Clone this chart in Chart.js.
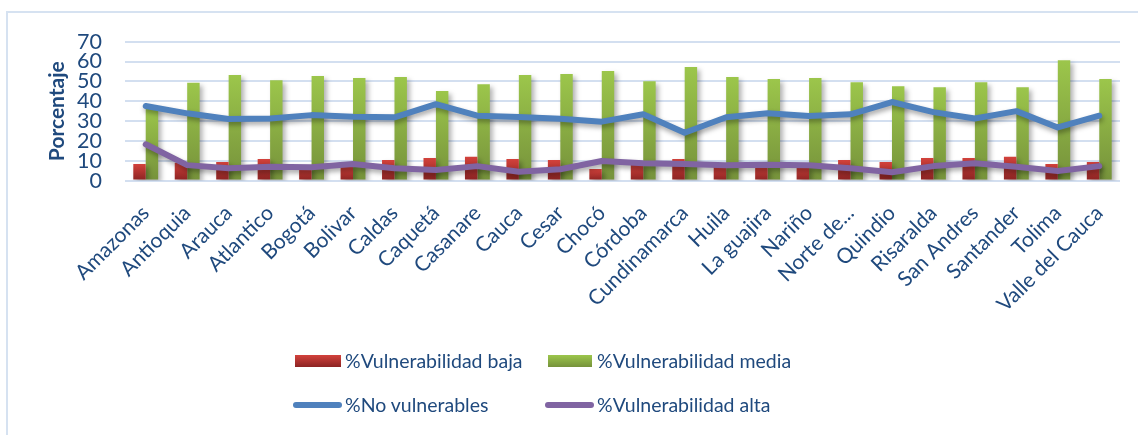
<!DOCTYPE html>
<html>
<head>
<meta charset="utf-8">
<script src="https://cdn.jsdelivr.net/npm/chart.js@4/dist/chart.umd.min.js"></script>
<style>
  html, body { margin: 0; padding: 0; background: #ffffff; }
  #wrap { position: relative; width: 1138px; height: 435px; overflow: hidden; background: #ffffff; font-family: Lato, "Open Sans", sans-serif; }
  #frame { position: absolute; left: 6px; top: 11px; width: 1300px; height: 600px; border: 2px solid #d6e2f1; box-sizing: border-box; }
  #chartBox { position: absolute; left: 0; top: 0; width: 1138px; height: 435px; }
  .lg { position: absolute; }
  .txt { position: absolute; color: #1f497d; font-size: 19.5px; line-height: 24px; height: 24px; white-space: nowrap; }
</style>
</head>
<body>
<div id="wrap">
  <div id="frame"></div>
  <div id="chartBox"><canvas id="c" width="1138" height="435"></canvas></div>
  <div class="lg" style="left:295px;top:355px;width:46px;height:12px;background:linear-gradient(#d3423c,#8c2423);"></div>
  <div class="txt" style="left:345px;top:349px;">%Vulnerabilidad baja</div>
  <div class="lg" style="left:548px;top:355px;width:44px;height:12px;background:linear-gradient(#9cc64b,#76923b);"></div>
  <div class="txt" style="left:597px;top:349px;">%Vulnerabilidad media</div>
  <div class="lg" style="left:293px;top:402px;width:49px;height:6px;border-radius:3px;background:#4f81bd;"></div>
  <div class="txt" style="left:345px;top:393px;">%No vulnerables</div>
  <div class="lg" style="left:545px;top:402px;width:49px;height:6px;border-radius:3px;background:#8064a2;"></div>
  <div class="txt" style="left:597px;top:393px;">%Vulnerabilidad alta</div>
</div>
<script>
const categories = ["Amazonas", "Antioquia", "Arauca", "Atlantico", "Bogotá", "Bolivar", "Caldas", "Caquetá",
  "Casanare", "Cauca", "Cesar", "Chocó", "Córdoba", "Cundinamarca", "Huila", "La guajira", "Nariño",
  "Norte de...", "Quindio", "Risaralda", "San Andres", "Santander", "Tolima", "Valle del Cauca"];

const vulnBaja = [8.4, 9, 9.4, 10.9, 7, 7.5, 10.4, 11.4, 12, 10.9, 10.4, 5.8, 8, 10.9, 7, 7, 7, 10.4, 9.4, 11.4, 11.4, 12, 8.4, 9.4];

const vulnMedia = [37, 49.3, 53.2, 50.6, 52.7, 51.7, 52.2, 45.1, 48.6, 53.2, 53.7, 55.2, 50.1, 57.2, 52.2, 51.2, 51.7, 49.6, 47.6, 47.1, 49.6, 47.1, 60.7, 51.2];

const noVulnerables = [37.6, 33.9, 31, 31.3, 33, 32.2, 31.9, 38.5, 32.7, 32, 31.2, 29.7, 33.4, 24.1, 31.9, 33.9, 32.5, 33.4, 39.6, 34.5, 31.3, 35, 26.8, 32.7];

const vulnAlta = [18.3, 7.8, 6.2, 7, 6.7, 8.4, 6.2, 5.3, 7.3, 4.5, 5.7, 9.9, 8.7, 8.4, 7.7, 8, 7.7, 6.2, 4.2, 7.3, 8.7, 7, 4.8, 7.3];

const yTickValues = [0, 10, 20, 30, 40, 50, 60, 70];

const TEXT = '#1f497d';
const FONT = 'Lato, "Open Sans", sans-serif';

function barGradient(top, bottom) {
  return (ctx) => {
    const chart = ctx.chart;
    const ca = chart.chartArea;
    if (!ca || ctx.type !== 'data' || !chart.scales.y) return bottom;
    const ys = chart.scales.y;
    const y0 = ys.getPixelForValue(ctx.raw);
    const y1 = ys.getPixelForValue(0);
    if (!isFinite(y0) || !isFinite(y1) || y0 === y1) return bottom;
    const g = chart.ctx.createLinearGradient(0, y0, 0, y1);
    g.addColorStop(0, top);
    g.addColorStop(1, bottom);
    return g;
  };
}

const shadowPlugin = {
  id: 'shadowPlugin',
  beforeDatasetDraw(chart, args) {
    const ctx = chart.ctx;
    ctx.save();
    const isLine = chart.data.datasets[args.index].type === 'line';
    ctx.shadowColor = isLine ? 'rgba(0,0,0,0.35)' : 'rgba(0,0,0,0.30)';
    ctx.shadowBlur = 5;
    ctx.shadowOffsetX = isLine ? 1 : 3;
    ctx.shadowOffsetY = 3;
  },
  afterDatasetDraw(chart) {
    chart.ctx.restore();
  }
};

new Chart(document.getElementById('c'), {
  data: {
    labels: categories,
    datasets: [
      {
        type: 'bar', label: '%Vulnerabilidad baja', data: vulnBaja, order: 1,
        backgroundColor: barGradient('#d3423c', '#8a2322'),
        categoryPercentage: 0.6, barPercentage: 1.0, borderWidth: 0
      },
      {
        type: 'bar', label: '%Vulnerabilidad media', data: vulnMedia, order: 1,
        backgroundColor: barGradient('#9cc64b', '#76923b'),
        categoryPercentage: 0.6, barPercentage: 1.0, borderWidth: 0
      },
      {
        type: 'line', label: '%No vulnerables', data: noVulnerables, order: 0,
        borderColor: '#4f81bd', borderWidth: 6, pointRadius: 0, tension: 0,
        borderCapStyle: 'round', borderJoinStyle: 'round', fill: false
      },
      {
        type: 'line', label: '%Vulnerabilidad alta', data: vulnAlta, order: 0,
        borderColor: '#8064a2', borderWidth: 6, pointRadius: 0, tension: 0,
        borderCapStyle: 'round', borderJoinStyle: 'round', fill: false
      }
    ]
  },
  options: {
    responsive: false,
    animation: false,
    layout: { padding: { top: 41.7, right: 18, bottom: 0, left: 0 } },
    plugins: { legend: { display: false }, tooltip: { enabled: false } },
    scales: {
      x: {
        type: 'category',
        offset: true,
        grid: { display: false, drawTicks: false },
        border: { display: false },
        ticks: {
          autoSkip: false, minRotation: 45, maxRotation: 45, padding: 20,
          color: TEXT, font: { family: FONT, size: 21 }
        },
        afterFit(scale) { scale.height = 254.4; }
      },
      y: {
        min: 0, max: 70,
        afterBuildTicks(scale) { scale.ticks = yTickValues.map(v => ({ value: v })); },
        grid: { color: '#d3dff0', lineWidth: 2, drawTicks: false },
        border: { display: false },
        ticks: { autoSkip: false, padding: 23, color: TEXT, font: { family: FONT, size: 21.5 } },
        title: {
          display: true, text: 'Porcentaje', color: TEXT,
          font: { family: FONT, size: 21, weight: 'bold' },
          padding: { top: 45, bottom: 0 }
        },
        afterFit(scale) { scale.width = 125; }
      }
    }
  },
  plugins: [shadowPlugin]
});
</script>
</body>
</html>
